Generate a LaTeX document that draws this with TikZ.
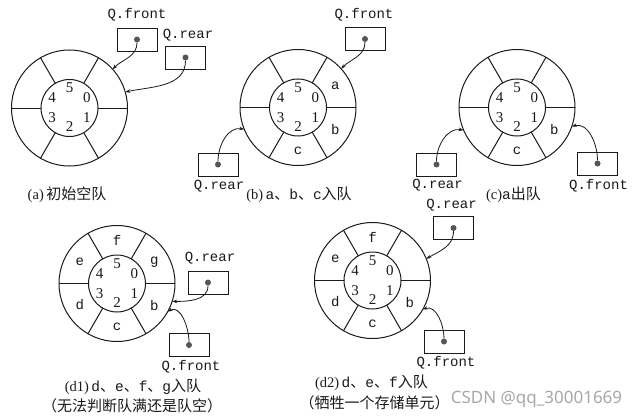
\documentclass[tikz,border=0pt]{standalone}
\usepackage{fontspec}
\setmainfont{Liberation Serif}
\setmonofont{Liberation Mono}
\newfontfamily\cjk{Noto Sans CJK SC}
\newfontfamily\wmfont{Noto Sans}
\usetikzlibrary{arrows.meta}
\definecolor{ink}{HTML}{1A1A1A}
\definecolor{dotc}{HTML}{555555}
\definecolor{wmc}{HTML}{A8A8A8}
\newcommand\zh[1]{{\cjk\fontsize{15}{15}\selectfont #1}}
\newcommand\mt[1]{{\ttfamily #1}}
\tikzset{
  ringo/.style={circle,draw=ink,line width=1pt,minimum size=116pt,inner sep=0pt,outer sep=0pt},
  ringi/.style={circle,draw=ink,line width=1pt,minimum size=57pt,inner sep=0pt,outer sep=0pt},
  spoke/.style={draw=ink,line width=1pt},
  num/.style={font=\fontsize{15}{15}\selectfont,inner sep=0pt,text=ink},
  slot/.style={font=\ttfamily\fontsize{14}{14}\selectfont,inner sep=0pt,text=ink},
  ptrbox/.style={draw=ink,line width=0.9pt,minimum width=40pt,minimum height=23pt,inner sep=0pt},
  ptrdot/.style={circle,fill=dotc,minimum size=6pt,inner sep=0pt},
  ptrlab/.style={font=\ttfamily\fontsize{14}{14}\selectfont,inner sep=0pt,text=ink},
  ptrarrow/.style={draw=ink,line width=0.8pt,-{Stealth[length=5pt,width=3.5pt]}},
  captxt/.style={font=\fontsize{14.5}{20}\selectfont,inner sep=0pt,text=ink,align=center},
}
\newcommand\ringq[2]{%
  \node[ringo] (#1) at (#2) {};
  \node[ringi] (#1i) at (#2) {};
  \foreach \ang in {0,60,...,300}{\draw[spoke] (#1i.\ang) -- (#1.\ang);}
  \node[num] (#1n0) at ([shift={(30:20)}]#1.center) {0};
  \node[num] (#1n1) at ([shift={(-30:20)}]#1.center) {1};
  \node[num] (#1n2) at ([shift={(-90:19)}]#1.center) {2};
  \node[num] (#1n3) at ([shift={(-150:20)}]#1.center) {3};
  \node[num] (#1n4) at ([shift={(150:20)}]#1.center) {4};
  \node[num] (#1n5) at ([shift={(90:20)}]#1.center) {5};
}
\newcommand\slotq[3]{\node[slot] (#1s#3) at ([shift={(#2:43)}]#1.center) {#3};}
\newcommand\ptrq[2]{%
  \node[ptrbox] (#1) at (#2) {};
  \node[ptrdot] (#1d) at (#1.center) {};
}
\begin{document}
\begin{tikzpicture}[x=1pt,y=1pt]
\useasboundingbox (0,0) rectangle (640,-420);
\fill[white] (0,0) rectangle (640,-420);

% (a)
\ringq{rA}{69.5,-108}
\ptrq{aF}{137,-39.5}
\node[ptrlab] (aFl) at (137,-15) {Q.front};
\ptrq{aR}{185.5,-57.5}
\node[ptrlab] (aRl) at (188,-35) {Q.rear};
\draw[ptrarrow] (aFd) to[out=-90,in=45] (rA.42);
\draw[ptrarrow] (aRd) to[out=-90,in=12] (rA.16);
\node[captxt] (capA) at (67,-195) {(a)\,\zh{初始空队}};

% (b)
\ringq{rB}{298,-107.5}
\slotq{rB}{30}{a}
\slotq{rB}{-30}{b}
\slotq{rB}{-90}{c}
\ptrq{bF}{365,-39}
\node[ptrlab] (bFl) at (364,-15) {Q.front};
\ptrq{bR}{218,-164.5}
\node[ptrlab] (bRl) at (219,-186) {Q.rear};
\draw[ptrarrow] (bFd) to[out=-90,in=45] (rB.42);
\draw[ptrarrow] (bRd) to[out=90,in=170] (rB.-158);
\node[captxt] (capB) at (299,-195) {(b)\,\mt{a}\zh{、}\mt{b}\zh{、}\mt{c}\zh{入队}};

% (c)
\ringq{rC}{517,-107.5}
\slotq{rC}{-30}{b}
\slotq{rC}{-90}{c}
\ptrq{cR}{436.5,-164.5}
\node[ptrlab] (cRl) at (437.5,-185) {Q.rear};
\ptrq{cF}{597.5,-163.5}
\node[ptrlab] (cFl) at (598.5,-186) {Q.front};
\draw[ptrarrow] (cRd) to[out=90,in=170] (rC.-157);
\draw[ptrarrow] (cFd) to[out=90,in=15] (rC.-19);
\node[captxt] (capC) at (513.5,-195) {(c)\mt{a}\zh{出队}};

% (d1)
\ringq{rD}{117,-283.5}
\slotq{rD}{90}{f}
\slotq{rD}{30}{g}
\slotq{rD}{-30}{b}
\slotq{rD}{-90}{c}
\slotq{rD}{-150}{d}
\slotq{rD}{150}{e}
\ptrq{dR}{208,-282.5}
\node[ptrlab] (dRl) at (210,-258) {Q.rear};
\ptrq{dF}{189,-345}
\node[ptrlab] (dFl) at (191,-367) {Q.front};
\draw[ptrarrow] (dRd) to[out=-90,in=0] (rD.-18);
\draw[ptrarrow] (dFd) to[out=90,in=30] (rD.-29.5);
\node[captxt] (capD1) at (133,-387) {(d1)\,\mt{d}\zh{、}\mt{e}\zh{、}\mt{f}\zh{、}\mt{g}\zh{入队}};
\node[captxt] (capD1b) at (132,-406) {\zh{（无法判断队满还是队空）}};

% (d2)
\ringq{rE}{372.5,-280.5}
\slotq{rE}{90}{f}
\slotq{rE}{-30}{b}
\slotq{rE}{-90}{c}
\slotq{rE}{-150}{d}
\slotq{rE}{150}{e}
\ptrq{eR}{453.5,-228}
\node[ptrlab] (eRl) at (451.5,-205) {Q.rear};
\ptrq{eF}{444,-341.5}
\node[ptrlab] (eFl) at (446,-363) {Q.front};
\draw[ptrarrow] (eRd) to[out=-90,in=30] (rE.22);
\draw[ptrarrow] (eFd) to[out=90,in=20] (rE.-30.5);
\node[captxt] (capE1) at (371.5,-383) {(d2)\,\mt{d}\zh{、}\mt{e}\zh{、}\mt{f}\zh{入队}};
\node[captxt] (capE2) at (374.5,-403) {\zh{（牺牲一个存储单元）}};

% watermark
\node[inner sep=0pt,text=wmc,font=\wmfont\fontsize{17}{17}\selectfont] (wm) at (536.5,-399) {CSDN @qq\_30001669};
\end{tikzpicture}
\end{document}
